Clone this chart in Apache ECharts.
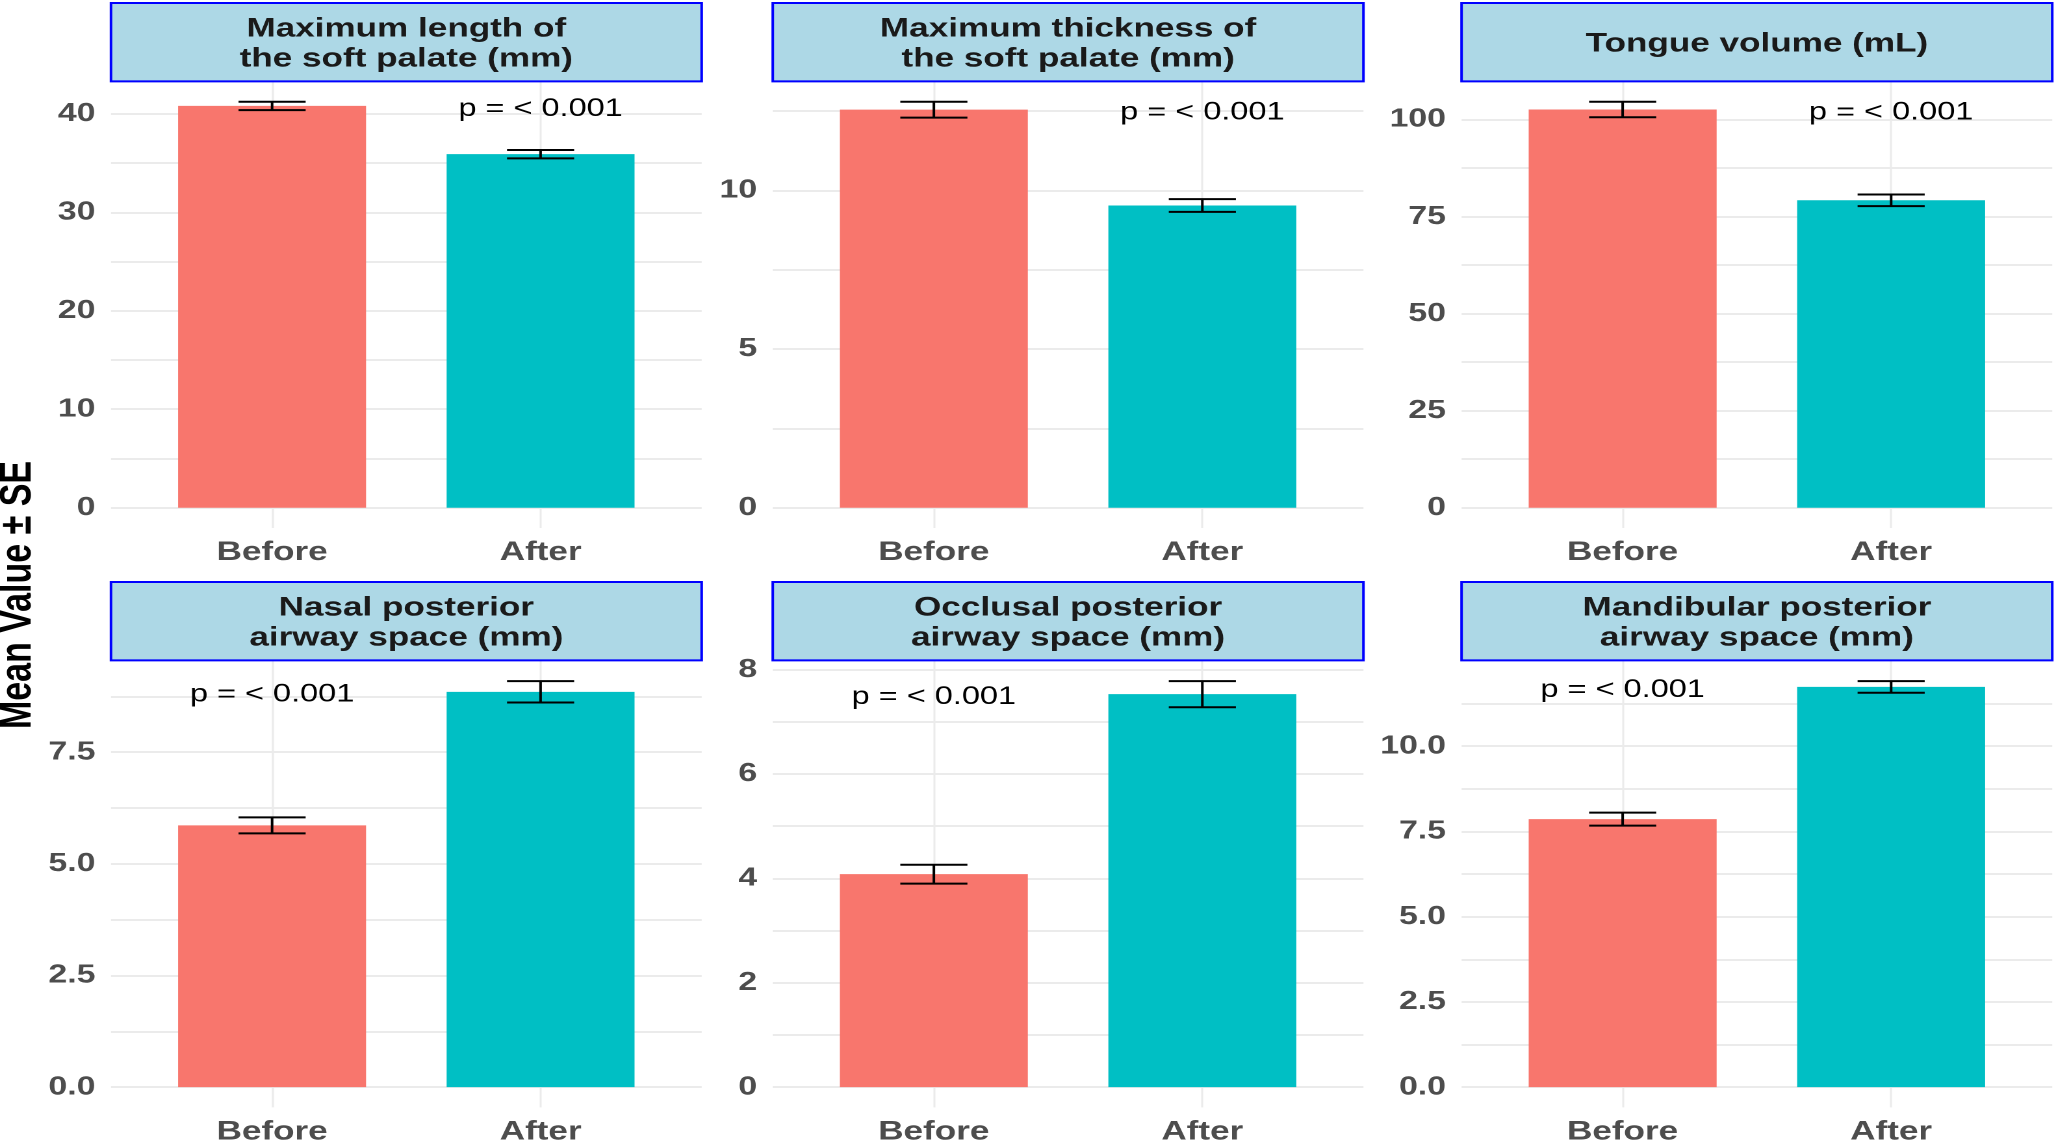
<!DOCTYPE html>
<html>
<head>
<meta charset="utf-8">
<script src="https://cdn.jsdelivr.net/npm/echarts@6/dist/echarts.min.js"></script>
<style>
html,body{margin:0;padding:0;background:#fff;overflow:hidden;}
#chart{width:1582px;height:1144px;transform:scaleX(1.29962);transform-origin:0 0;}
</style>
</head>
<body>
<div id="chart"></div>
<script>
// ---------- data ----------
const groups = ['Before', 'After'];
const panelTitles = [
  'Maximum length of\nthe soft palate (mm)',
  'Maximum thickness of\nthe soft palate (mm)',
  'Tongue volume (mL)',
  'Nasal posterior\nairway space (mm)',
  'Occlusal posterior\nairway space (mm)',
  'Mandibular posterior\nairway space (mm)'
];
const meanLength = [40.8, 35.9];
const seLength = [0.43, 0.43];
const meanThickness = [12.54, 9.52];
const seThickness = [0.25, 0.20];
const meanTongue = [102.6, 79.2];
const seTongue = [2.0, 1.5];
const meanNasal = [5.86, 8.85];
const seNasal = [0.18, 0.24];
const meanOcclusal = [4.08, 7.53];
const seOcclusal = [0.18, 0.25];
const meanMandibular = [7.86, 11.74];
const seMandibular = [0.19, 0.17];
const pLabels = ['p = < 0.001', 'p = < 0.001', 'p = < 0.001', 'p = < 0.001', 'p = < 0.001', 'p = < 0.001'];

const majorTicks = [
  [0, 10, 20, 30, 40],
  [0, 5, 10],
  [0, 25, 50, 75, 100],
  [0, 2.5, 5, 7.5],
  [0, 2, 4, 6, 8],
  [0, 2.5, 5, 7.5, 10]
];
const minorTicks = [
  [5, 15, 25, 35],
  [2.5, 7.5, 12.5],
  [12.5, 37.5, 62.5, 87.5],
  [1.25, 3.75, 6.25, 8.75],
  [1, 3, 5, 7],
  [1.25, 3.75, 6.25, 8.75, 11.25]
];
const tickDecimals = [0, 0, 0, 1, 0, 1];
const yTitle = 'Mean Value \u00b1 SE';

const means = [meanLength, meanThickness, meanTongue, meanNasal, meanOcclusal, meanMandibular];
const ses = [seLength, seThickness, seTongue, seNasal, seOcclusal, seMandibular];

// ---------- style / layout ----------
const barColors = ['#F8766D', '#00BFC4'];
const FONT = "'Liberation Sans', Arial, Helvetica, sans-serif";
const gridLefts = [85.4, 594.6, 1124.6];
const gridWidth = 454.5;
const rowTops = [81.4, 660.8];
const gridHeight = 446.6;
const stripTops = [3, 582];
const stripHeight = 78.4;
const gridColor = '#EBEBEB';

const chart = echarts.init(document.getElementById('chart'), null, {renderer: 'canvas', devicePixelRatio: 2});

const grids = [], xAxes = [], yAxes = [], series = [], graphics = [];

for (let i = 0; i < 6; i++) {
  const col = i % 3, row = Math.floor(i / 3);
  const m = means[i], s = ses[i];
  const T = Math.max(m[0] + s[0], m[1] + s[1]);
  grids.push({left: gridLefts[col], top: rowTops[row], width: gridWidth, height: gridHeight,
              containLabel: false, outerBoundsMode: 'none'});
  xAxes.push({
    type: 'value', gridIndex: i, min: 0.4, max: 2.6,
    axisLine: {show: false, onZero: false},
    axisTick: {show: false, customValues: [1, 2]},
    splitLine: {show: true, lineStyle: {color: gridColor, width: 1.5}},
    axisLabel: {
      customValues: [1, 2],
      formatter: v => groups[Math.round(v) - 1],
      fontFamily: FONT, fontSize: 27, fontWeight: 'bold', color: '#4D4D4D', margin: 11
    }
  });
  const allTicks = majorTicks[i].concat(minorTicks[i]).sort((a, b) => a - b);
  const dec = tickDecimals[i];
  yAxes.push({
    type: 'value', gridIndex: i, min: -0.05 * T, max: 1.05 * T,
    axisLine: {show: false, onZero: false},
    axisTick: {show: false, customValues: allTicks},
    splitLine: {show: true, lineStyle: {color: gridColor, width: 2}},
    axisLabel: {
      customValues: majorTicks[i],
      formatter: v => Number(v).toFixed(dec),
      fontFamily: FONT, fontSize: 26, fontWeight: 'bold', color: '#4D4D4D', margin: 12,
      padding: [5, 0, 0, 0]
    }
  });
  // bars
  series.push({
    type: 'bar', xAxisIndex: i, yAxisIndex: i, z: 2,
    barWidth: 0.7 * gridWidth / 2.2,
    data: groups.map((g, j) => ({value: [j + 1, m[j]], itemStyle: {color: barColors[j]}})),
    animation: false, silent: true
  });
  // error bars
  series.push({
    type: 'custom', xAxisIndex: i, yAxisIndex: i, z: 3,
    encode: {x: 0, y: 1},
    data: groups.map((g, j) => [j + 1, m[j], s[j]]),
    renderItem: (params, api) => {
      const x = api.value(0), mv = api.value(1), sv = api.value(2);
      const top = api.coord([x, mv + sv]);
      const bot = api.coord([x, mv - sv]);
      const hw = api.size([0.25, 0])[0] / 2;
      const st = {stroke: '#000', lineWidth: 2};
      return {type: 'group', children: [
        {type: 'line', shape: {x1: top[0] - hw, y1: top[1], x2: top[0] + hw, y2: top[1]}, style: st},
        {type: 'line', shape: {x1: bot[0] - hw, y1: bot[1], x2: bot[0] + hw, y2: bot[1]}, style: st},
        {type: 'line', shape: {x1: top[0], y1: top[1], x2: bot[0], y2: bot[1]}, style: st}
      ]};
    },
    animation: false, silent: true
  });
  // p-value text: placed at the group with the lower mean, at the height of the higher mean
  const lowIdx = m[0] < m[1] ? 0 : 1;
  const pLab = pLabels[i];
  series.push({
    type: 'custom', xAxisIndex: i, yAxisIndex: i, z: 4,
    encode: {x: 0, y: 1},
    data: [[lowIdx + 1, Math.max(m[0], m[1])]],
    renderItem: (params, api) => {
      const pt = api.coord([api.value(0), api.value(1)]);
      return {type: 'text', x: pt[0], y: pt[1] + 3,
        style: {text: pLab, fill: '#000', font: '25px ' + FONT,
                align: 'center', verticalAlign: 'middle', textAlign: 'center', textVerticalAlign: 'middle'}};
    },
    animation: false, silent: true
  });
  // strip
  graphics.push({
    type: 'rect', z: 10,
    shape: {x: gridLefts[col], y: stripTops[row], width: gridWidth, height: stripHeight},
    style: {fill: '#ADD8E6', stroke: '#0000FF', lineWidth: 2}
  });
  graphics.push({
    type: 'text', z: 11,
    x: gridLefts[col] + gridWidth / 2, y: stripTops[row] + stripHeight / 2 + 2,
    style: {text: panelTitles[i], fill: '#1A1A1A', font: 'bold 27px ' + FONT, lineHeight: 30,
            align: 'center', verticalAlign: 'middle', textAlign: 'center', textVerticalAlign: 'middle'}
  });
}

graphics.push({
  type: 'text', z: 11, x: 14, y: 595, rotation: Math.PI / 2,
  style: {text: yTitle, fill: '#000', font: 'bold 34px ' + FONT,
          align: 'center', verticalAlign: 'middle', textAlign: 'center', textVerticalAlign: 'middle'}
});

chart.setOption({
  animation: false,
  backgroundColor: '#fff',
  grid: grids,
  xAxis: xAxes,
  yAxis: yAxes,
  series: series,
  graphic: {elements: graphics}
});
</script>
</body>
</html>
